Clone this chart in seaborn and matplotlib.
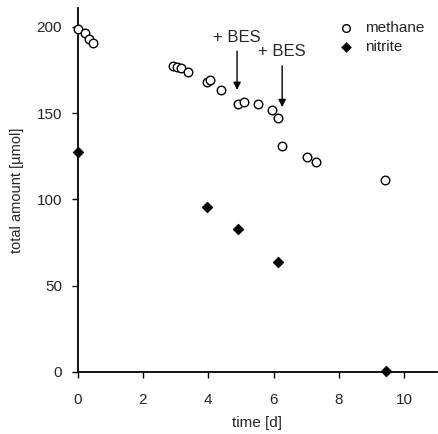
import matplotlib
matplotlib.use("Agg")
import matplotlib.pyplot as plt
import seaborn as sns
import pandas as pd

methane_t = [0.0, 0.22, 0.36, 0.47, 2.92, 3.03, 3.17, 3.37, 3.95, 4.05, 4.40,
             4.90, 5.08, 5.51, 5.94, 6.14, 6.24, 7.01, 7.29, 9.40]
methane_v = [199, 196.5, 193, 190.5, 177.3, 177.0, 176.0, 174.1, 168.0, 169.0, 163.4,
             155.5, 156.4, 155.1, 151.7, 147.3, 131.2, 124.4, 121.5, 111.5]
nitrite_t = [0.0, 3.96, 4.92, 6.14, 9.43]
nitrite_v = [127.6, 95.3, 82.8, 63.4, 0.4]

bes_t = [4.88, 6.26]
bes_head = [163.5, 153.5]
bes_tail = [186.0, 177.5]
bes_text_y = [194.0, 185.5]
bes_label = "+ BES"

xticks = [0, 2, 4, 6, 8, 10]
yticks = [0, 50, 100, 150, 200]

sns.set_style("white")
plt.rcParams['font.family'] = ['Liberation Sans', 'DejaVu Sans']

fig = plt.figure(figsize=(4.38, 4.34), dpi=100)
ax = fig.add_axes([0.177, 0.1435, 0.821, 0.838])

df_m = pd.DataFrame({"t": methane_t, "v": methane_v})
df_n = pd.DataFrame({"t": nitrite_t, "v": nitrite_v})

sns.scatterplot(data=df_m, x="t", y="v", ax=ax, marker="o", s=38,
                facecolor="white", edgecolor="black", linewidth=1.0,
                label="methane", zorder=3, clip_on=False)
sns.scatterplot(data=df_n, x="t", y="v", ax=ax, marker="D", s=30,
                color="black", edgecolor="black", linewidth=0.5,
                label="nitrite", zorder=3, clip_on=False)

for xt, h, tl, ty in zip(bes_t, bes_head, bes_tail, bes_text_y):
    ax.annotate("", xy=(xt, h), xytext=(xt, tl),
                arrowprops=dict(arrowstyle="-|>", color="black", lw=1.0,
                                mutation_scale=11, shrinkA=0, shrinkB=0))
    ax.text(xt, ty, bes_label, ha="center", va="center", fontsize=12)

ax.set_xlim(0, 11)
ax.set_ylim(0, 211)
ax.set_xticks(xticks)
ax.set_yticks(yticks)
ax.set_xlabel("time [d]", fontsize=11, labelpad=7)
ax.set_ylabel("total amount [µmol]", fontsize=10.5, labelpad=9)
ax.tick_params(axis="both", direction="out", length=4, width=1, labelsize=11,
               color="black", bottom=True, left=True)
ax.tick_params(axis="x", pad=11)
ax.tick_params(axis="y", pad=7)
for side in ["top", "right"]:
    ax.spines[side].set_visible(False)
for side in ["left", "bottom"]:
    ax.spines[side].set_color("black")
    ax.spines[side].set_linewidth(1.3)

leg = ax.legend(loc="upper right", bbox_to_anchor=(1.0, 1.0), frameon=False,
                fontsize=11, handletextpad=0.2, labelspacing=0.35,
                markerscale=0.9, borderaxespad=0.45)

fig.savefig("out.png", dpi=100, facecolor="white")
